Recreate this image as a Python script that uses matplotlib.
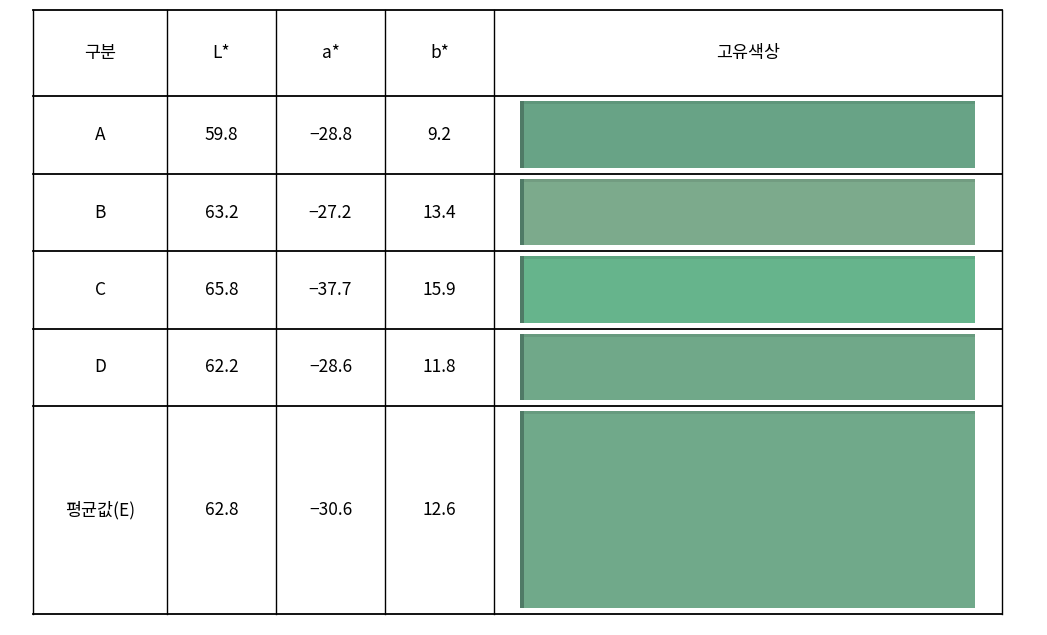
import matplotlib.pyplot as plt
from matplotlib.patches import Rectangle

plt.rcParams['font.family'] = ['Noto Sans CJK KR', 'DejaVu Sans']

headers = ['구분', 'L*', 'a*', 'b*', '고유색상']
labels = ['A', 'B', 'C', 'D', '평균값(E)']
L_vals = ['59.8', '63.2', '65.8', '62.2', '62.8']
a_vals = ['−28.8', '−27.2', '−37.7', '−28.6', '−30.6']
b_vals = ['9.2', '13.4', '15.9', '11.8', '12.6']
colors = ['#68a386', '#7caa8c', '#66b48c', '#70a889', '#70a98a']

W, H = 1047, 635
fig = plt.figure(figsize=(W / 100, H / 100), dpi=100)
ax = fig.add_axes([0, 0, 1, 1])
ax.set_xlim(0, W)
ax.set_ylim(H, 0)
ax.axis('off')

xs = [33, 167, 276, 385, 494, 1002]
ys = [10, 96, 174, 251, 329, 406, 614]

for x in xs:
    ax.plot([x, x], [ys[0], ys[-1]], color='black', lw=1)
for y in ys:
    ax.plot([xs[0], xs[-1]], [y, y], color='black', lw=1.3)

fs = 12.5
for j, h in enumerate(headers):
    ax.text((xs[j] + xs[j + 1]) / 2, (ys[0] + ys[1]) / 2, h, ha='center', va='center', fontsize=fs)

for i in range(len(labels)):
    yc = (ys[i + 1] + ys[i + 2]) / 2
    for j, v in enumerate([labels[i], L_vals[i], a_vals[i], b_vals[i]]):
        ax.text((xs[j] + xs[j + 1]) / 2, yc, v, ha='center', va='center', fontsize=fs)
    top, bot = ys[i + 1] + 5, ys[i + 2] - 6
    ax.add_patch(Rectangle((520, top), 455, bot - top, color=colors[i], lw=0))
    ax.add_patch(Rectangle((520, top), 4, bot - top, color='#4f7a66', lw=0))
    ax.add_patch(Rectangle((524, top), 451, 3, color='black', alpha=0.08, lw=0))

fig.savefig('out.png', dpi=100)
